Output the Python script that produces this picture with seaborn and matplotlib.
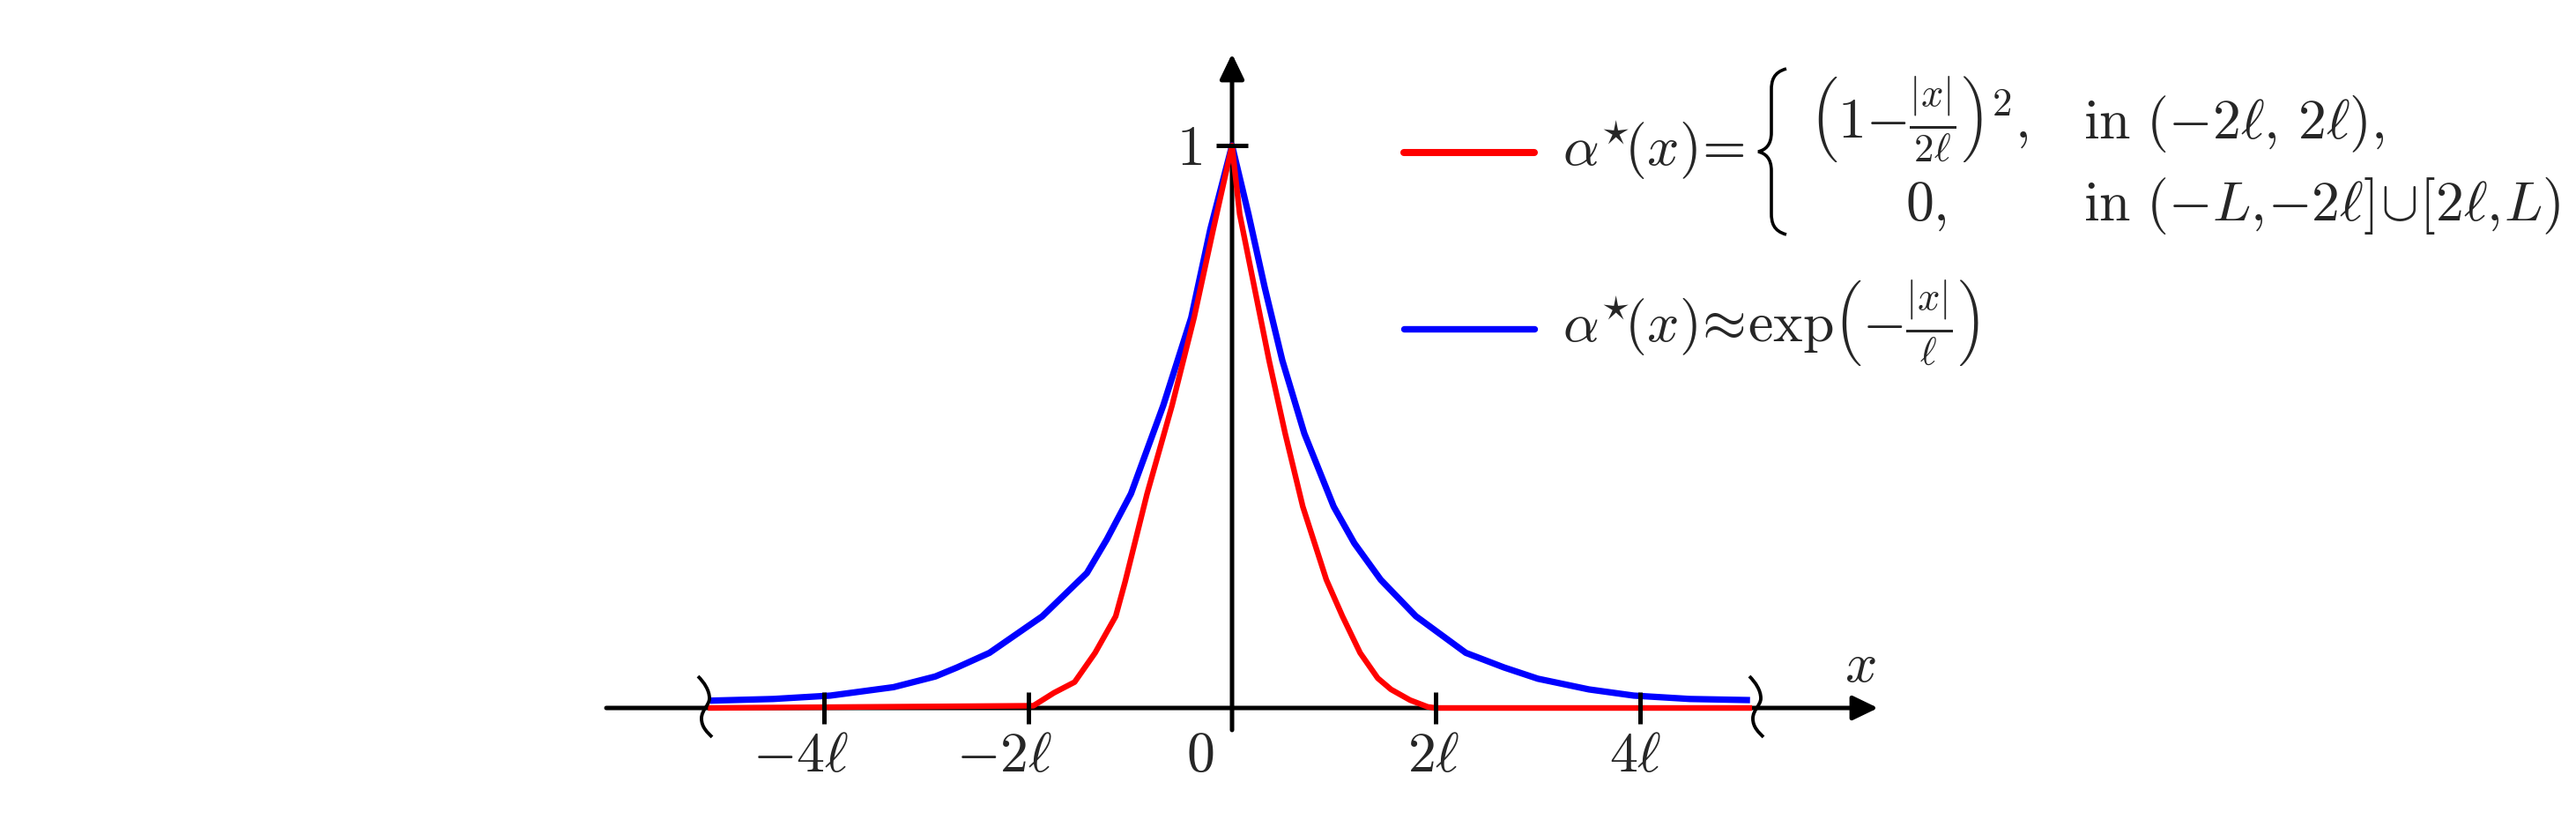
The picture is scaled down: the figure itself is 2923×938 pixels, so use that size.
import pandas as pd
import seaborn as sns
import matplotlib.pyplot as plt
import matplotlib.transforms as mtransforms
from matplotlib.path import Path
from matplotlib.patches import PathPatch
from matplotlib.lines import Line2D

# values, x in units of ell
redX = [-5.14, -1.948, -1.746, -1.544, -1.343, -1.141, -1.049, -0.833, -0.588,
        -0.372, -0.184, 0.0,
        0.075, 0.219, 0.363, 0.521, 0.694, 0.925, 1.083, 1.256, 1.429, 1.559,
        1.746, 1.919, 2.0, 5.1]
redY = [0.0, 0.004, 0.027, 0.046, 0.098, 0.163, 0.224, 0.381, 0.538,
        0.694, 0.851, 1.0,
        0.878, 0.748, 0.618, 0.488, 0.358, 0.228, 0.163, 0.098, 0.053, 0.033,
        0.014, 0.002, 0.0, 0.0]

blueX = [-5.12, -4.5, -3.94, -3.32, -2.91, -2.697, -2.379, -1.861, -1.423,
         -1.227, -0.991, -0.674, -0.400, -0.213, 0.0,
         0.161, 0.320, 0.493, 0.709, 0.997, 1.199, 1.458, 1.804, 2.293, 2.668,
         3.0, 3.5, 3.94, 4.49, 5.08]
blueY = [0.013, 0.016, 0.022, 0.037, 0.056, 0.072, 0.098, 0.163, 0.240,
         0.300, 0.381, 0.538, 0.694, 0.851, 1.0,
         0.878, 0.748, 0.618, 0.488, 0.358, 0.293, 0.228, 0.163, 0.098, 0.072,
         0.052, 0.033, 0.022, 0.016, 0.014]

xTicks = [-4, -2, 0, 2, 4]
xTickLabels = [r"$-4\ell$", r"$-2\ell$", r"$0$", r"$2\ell$", r"$4\ell$"]
labelShift = [-0.23, -0.23, -0.31, -0.02, -0.04]

redLabel = r"$\alpha^{\star}\!(x)\!=\!$"
caseTop = r"$\left(1{-}\frac{|x|}{2\ell}\right)^{2},$"
caseBottom = r"$0,$"
whereTop = r"$\mathrm{in}\ (-2\ell,\, 2\ell),$"
whereBottom = r"$\mathrm{in}\ (-L,\!{-}2\ell]\!\cup\![2\ell,\!L)$"
blueLabel = r"$\alpha^{\star}\!(x)\!\approx\!\mathrm{exp}\left({-}\frac{|x|}{\ell}\right)$"

W, H = 2923, 938
X0, Y0 = 1398, 803      # origin in pixels
PXL, PXY = 115.7, 638   # pixels per ell / per unit of alpha
FS = 46

sns.set_style("white")
plt.rcParams["mathtext.fontset"] = "cm"
plt.rcParams["font.family"] = ["DejaVu Serif"]

fig = plt.figure(figsize=(W / 100, H / 100), dpi=100)
ax = fig.add_axes([0, 0, 1, 1])
ax.set_xlim(-X0 / PXL, (W - X0) / PXL)
ax.set_ylim(-(H - Y0) / PXY, Y0 / PXY)
ax.axis("off")

# pixel coords (top-left origin) for decorations
pix = mtransforms.Affine2D().scale(1 / W, -1 / H).translate(0, 1) + fig.transFigure

red = pd.DataFrame({"x": redX, "y": redY})
blue = pd.DataFrame({"x": blueX, "y": blueY})
sns.lineplot(data=blue, x="x", y="y", sort=False, estimator=None,
             color="#0000ff", linewidth=5.2, ax=ax, zorder=3,
             solid_joinstyle="round", solid_capstyle="butt")
sns.lineplot(data=red, x="x", y="y", sort=False, estimator=None,
             color="#ff0000", linewidth=4.6, ax=ax, zorder=3,
             solid_joinstyle="round", solid_capstyle="butt")

# axes with arrows
arrow = dict(arrowstyle="-|>,head_length=0.87,head_width=0.42", mutation_scale=20,
             lw=3.6, color="black", shrinkA=0, shrinkB=0)
ax.annotate("", xy=((2131 - X0) / PXL, 0), xytext=((688 - X0) / PXL, 0),
            arrowprops=arrow, zorder=2)
ax.annotate("", xy=(0, (Y0 - 61) / PXY), xytext=(0, -25 / PXY),
            arrowprops=arrow, zorder=2)

# ticks
tl = [t for t in xTicks if t != 0]
ax.vlines(tl, -18 / PXY, 18 / PXY, color="black", lw=3.6, zorder=4)
ax.hlines(1, -18 / PXL, 18 / PXL, color="black", lw=3.6, zorder=4)

for t, lab, s in zip(xTicks, xTickLabels, labelShift):
    ax.text(t + s, -72 / PXY, lab, fontsize=FS, ha="center", va="baseline")
ax.text(-49 / PXL, 1 - 22 / PXY, r"$1$", fontsize=FS, ha="center", va="baseline")
ax.text((2111 - X0) / PXL, (Y0 - 773) / PXY, r"$x$", fontsize=FS,
        ha="center", va="baseline")

# break marks at +-L
for cx in (800, 1993):
    verts = [(cx - 8, 767), (cx - 1, 774), (cx + 5, 783), (cx + 5, 792),
             (cx + 5, 800), (cx - 4, 805), (cx - 4, 815),
             (cx - 4, 825), (cx + 3, 831), (cx + 8, 836)]
    codes = [Path.MOVETO] + [Path.CURVE4] * 9
    fig.add_artist(PathPatch(Path(verts, codes), fill=False, lw=2.8,
                             color="black", transform=pix, zorder=5))

# legend
fig.add_artist(Line2D([1593, 1741], [173, 173], color="#ff0000", lw=5.8,
                      transform=pix))
fig.add_artist(Line2D([1593, 1741], [373, 373], color="#0000ff", lw=5.3,
                      transform=pix))
fig.text(1773 / W, 1 - 188 / H, redLabel, fontsize=FS, va="baseline")
fig.text(1773 / W, 1 - 388 / H, blueLabel, fontsize=FS, va="baseline")

brace = [(2027, 78), (2012, 82), (2010, 92), (2010, 102),
         (2010, 150),
         (2010, 165), (2003, 170), (1995, 172),
         (2003, 174), (2010, 179), (2010, 194),
         (2010, 242),
         (2010, 252), (2012, 262), (2027, 266)]
bcodes = ([Path.MOVETO] + [Path.CURVE4] * 3 + [Path.LINETO] + [Path.CURVE4] * 6
          + [Path.LINETO] + [Path.CURVE4] * 3)
fig.add_artist(PathPatch(Path(brace, bcodes), fill=False, lw=2.6,
                         color="black", transform=pix))

fig.text(2053 / W, 1 - 157 / H, caseTop, fontsize=FS, va="baseline")
fig.text(2162 / W, 1 - 250 / H, caseBottom, fontsize=FS, va="baseline")
fig.text(2364 / W, 1 - 157 / H, whereTop, fontsize=FS, va="baseline")
fig.text(2364 / W, 1 - 250 / H, whereBottom, fontsize=FS, va="baseline")

plt.savefig("out.png", dpi=100)
plt.close()
